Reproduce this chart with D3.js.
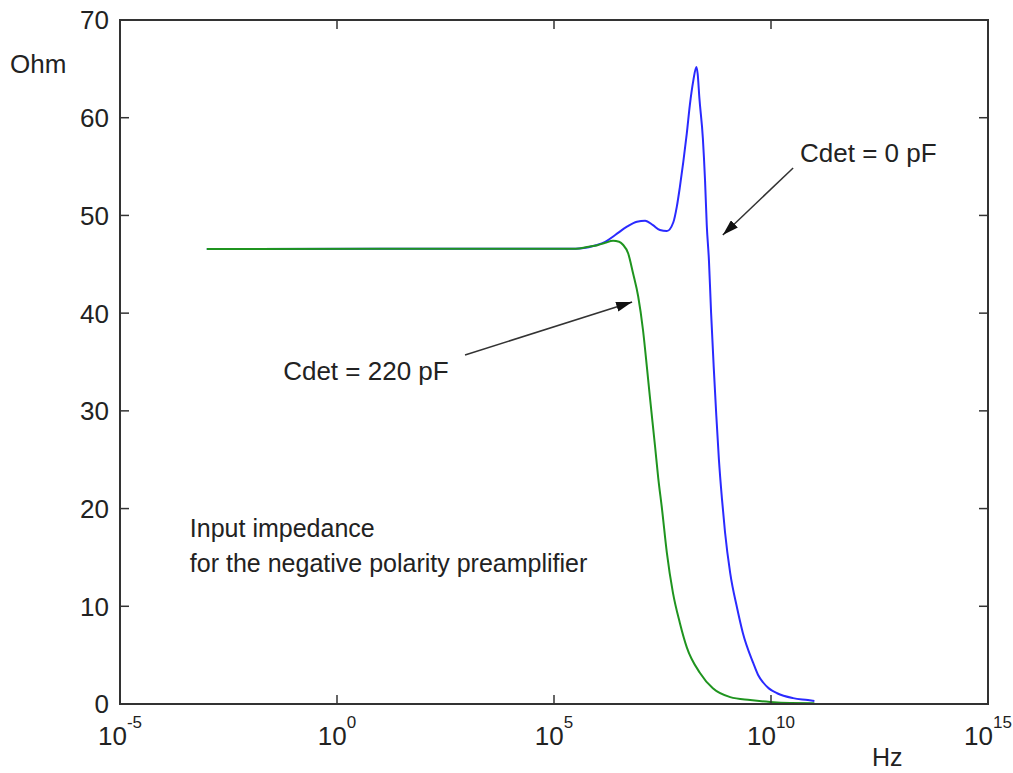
<!DOCTYPE html>
<html>
<head>
<meta charset="utf-8">
<script src="https://cdn.jsdelivr.net/npm/d3@7"></script>
<style>
  body { margin: 0; background: #fff; }
  text { font-family: "Liberation Sans", Arial, sans-serif; fill: #222; }
</style>
</head>
<body>
<svg id="chart" width="1013" height="773"></svg>
<script>
// frequencies are kept as log10(Hz)
var blueLogHz = [-3, 5.5, 5.8, 5.97, 6.18, 6.41, 6.68, 6.91, 7.10, 7.28, 7.44, 7.60, 7.75, 7.83, 7.90, 7.98, 8.06, 8.13, 8.21, 8.28, 8.31, 8.35, 8.43, 8.48, 8.52, 8.57, 8.62, 8.68, 8.74, 8.80, 8.87, 8.94, 9.06, 9.22, 9.35, 9.59, 9.70, 9.82, 9.95, 10.14, 10.51, 10.85, 11.0]
var blueOhm = [46.57, 46.6, 46.75, 46.95, 47.3, 48.0, 48.85, 49.36, 49.46, 49.0, 48.5, 48.4, 49.3, 50.9, 52.9, 55.5, 58.4, 61.3, 63.8, 65.2, 64.5, 62.0, 57.9, 53.6, 49.0, 45.4, 40.0, 34.5, 29.5, 25.0, 21.0, 17.6, 13.4, 9.8, 7.3, 4.2, 3.0, 2.2, 1.6, 1.1, 0.6, 0.4, 0.3]

var greenLogHz = [-3, 5.5, 5.8, 6.0, 6.18, 6.36, 6.50, 6.59, 6.71, 6.82, 6.94, 7.05, 7.14, 7.21, 7.33, 7.40, 7.49, 7.60, 7.74, 7.90, 8.06, 8.36, 8.66, 9.06, 9.52, 9.98, 10.44, 11.0]
var greenOhm = [46.57, 46.6, 46.8, 46.95, 47.2, 47.4, 47.3, 47.0, 46.1, 44.1, 41.7, 38.3, 34.5, 31.4, 26.3, 23.2, 19.9, 15.5, 11.4, 8.3, 5.8, 3.2, 1.6, 0.7, 0.4, 0.2, 0.1, 0.08]

var xTickExp = [-5, 0, 5, 10, 15]
var yTicks = [0, 10, 20, 30, 40, 50, 60, 70]

var noteLines = ["Input impedance", "for the negative polarity preamplifier"]
// annotations: text anchor and arrow, in data units (log10 Hz, Ohm)
var labelBlue = { text: "Cdet = 0 pF", at: [10.67, 55.47], from: [10.51, 54.86], to: [8.89, 48.0] }
var labelGreen = { text: "Cdet = 220 pF", at: [-1.24, 33.16], from: [2.95, 35.72], to: [6.80, 41.14] }

var width = 1013, height = 773
var margin = { top: 20, right: 25, bottom: 69, left: 120 }
var plotW = width - margin.left - margin.right
var plotH = height - margin.top - margin.bottom

var svg = d3.select("#chart")
var g = svg.append("g").attr("transform", "translate(" + margin.left + "," + margin.top + ")")

var x = d3.scaleLog().domain([1e-5, 1e15]).range([0, plotW])
var y = d3.scaleLinear().domain([0, 70]).range([plotH, 0])

var px = function (e) { return x(Math.pow(10, e)) }

var line = d3.line()
    .x(function (d) { return px(d[0]) })
    .y(function (d) { return y(d[1]) })
    .curve(d3.curveMonotoneX)

var blueData = blueLogHz.map((e, i) => [e, blueOhm[i]])
var greenData = greenLogHz.map((e, i) => [e, greenOhm[i]])

g.append("path")
    .attr("fill", "none")
    .attr("stroke", "#2a2aff")
    .attr("stroke-width", 2)
    .attr("d", line(blueData))

g.append("path")
    .attr("fill", "none")
    .attr("stroke", "#1f941f")
    .attr("stroke-width", 2)
    .attr("d", line(greenData))

// box + inward ticks on all four sides
var axisColor = "#333"
g.append("rect")
    .attr("width", plotW).attr("height", plotH)
    .attr("fill", "none").attr("stroke", axisColor).attr("stroke-width", 2)

var tickLen = 9
xTickExp.forEach(function (e) {
    var xx = px(e)
    g.append("line").attr("x1", xx).attr("x2", xx).attr("y1", plotH).attr("y2", plotH - tickLen)
        .attr("stroke", axisColor).attr("stroke-width", 1.5)
    g.append("line").attr("x1", xx).attr("x2", xx).attr("y1", 0).attr("y2", tickLen)
        .attr("stroke", axisColor).attr("stroke-width", 1.5)
    var t = g.append("text")
        .attr("x", xx).attr("y", plotH + 41)
        .attr("text-anchor", "middle")
        .style("font-size", "26px")
    t.append("tspan").text("10")
    t.append("tspan").attr("dy", -17).style("font-size", "17px").text(e)
})

yTicks.forEach(function (v) {
    var yy = y(v)
    g.append("line").attr("x1", 0).attr("x2", tickLen).attr("y1", yy).attr("y2", yy)
        .attr("stroke", axisColor).attr("stroke-width", 1.5)
    g.append("line").attr("x1", plotW).attr("x2", plotW - tickLen).attr("y1", yy).attr("y2", yy)
        .attr("stroke", axisColor).attr("stroke-width", 1.5)
    g.append("text")
        .attr("x", -11).attr("y", yy)
        .attr("dy", "0.36em")
        .attr("text-anchor", "end")
        .style("font-size", "26px")
        .text(v)
})

// axis labels
svg.append("text").attr("x", 10).attr("y", 73).style("font-size", "26px").text("Ohm")
svg.append("text").attr("x", 872).attr("y", 766).style("font-size", "25px").text("Hz")

// annotation arrows
svg.append("defs").append("marker")
    .attr("id", "head")
    .attr("markerUnits", "userSpaceOnUse")
    .attr("viewBox", "0 0 16 10")
    .attr("refX", 16).attr("refY", 5)
    .attr("markerWidth", 16).attr("markerHeight", 10)
    .attr("orient", "auto")
    .append("path").attr("d", "M0,0 L16,5 L0,10 Z").attr("fill", "#111")

;[labelBlue, labelGreen].forEach(function (a) {
    g.append("line")
        .attr("x1", px(a.from[0])).attr("y1", y(a.from[1]))
        .attr("x2", px(a.to[0])).attr("y2", y(a.to[1]))
        .attr("stroke", "#333").attr("stroke-width", 1.5)
        .attr("marker-end", "url(#head)")
    g.append("text")
        .attr("x", px(a.at[0])).attr("y", y(a.at[1]))
        .style("font-size", "26px")
        .text(a.text)
})

g.selectAll(".note")
    .data(noteLines)
    .enter().append("text")
    .attr("class", "note")
    .attr("x", px(-3.39))
    .attr("y", (d, i) => y(17.1) + i * 35)
    .style("font-size", "25px")
    .text(d => d)
</script>
</body>
</html>
